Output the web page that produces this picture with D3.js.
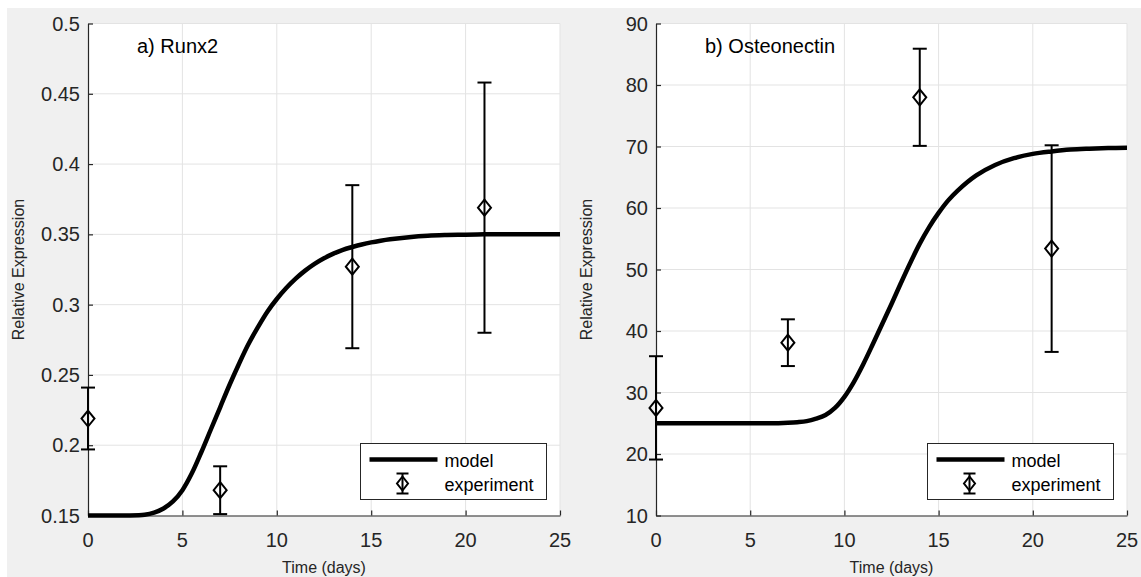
<!DOCTYPE html>
<html>
<head>
<meta charset="utf-8">
<title>Runx2 / Osteonectin</title>
<style>
body { margin: 0; background: #fff; }
text { font-family: "Liberation Sans", Arial, sans-serif; fill: #262626; }
.grid line { stroke: #e3e3e3; stroke-width: 1; }
.axis path, .axis line { stroke: #262626; stroke-width: 1.2; }
.tick-label { font-size: 20px; }
.axis-title { font-size: 16px; }
.panel-title { font-size: 20px; fill: #000; }
.legend text { font-size: 18px; fill: #000; }
</style>
</head>
<body>
<svg id="chart" width="1141" height="577"></svg>
<script src="https://d3js.org/d3.v7.min.js"></script>
<script>
// measured days
var expDays = [0, 7, 14, 21];

// panel a) Runx2
var runx2Mean = [0.219, 0.168, 0.327, 0.369];
var runx2Err = [0.022, 0.017, 0.058, 0.089];

// panel b) Osteonectin
var osteoMean = [27.5, 38.1, 78.0, 53.4];
var osteoErr = [8.4, 3.8, 7.9, 16.8];

// model curves
var modelDays = [0, 1, 2, 3, 3.5, 4, 4.5, 5, 5.5, 6, 6.5, 7, 7.5, 8, 8.5, 9, 9.5, 10, 10.5, 11,
  11.5, 12, 12.5, 13, 13.5, 14, 14.5, 15, 15.5, 16, 17, 18, 19, 20, 21, 22, 23, 24, 25];
var runx2Model = [0.15, 0.15, 0.15, 0.1505, 0.152, 0.155, 0.160, 0.168, 0.180, 0.195, 0.211, 0.227,
  0.243, 0.258, 0.272, 0.284, 0.295, 0.304, 0.3118, 0.3185, 0.3242, 0.329, 0.333, 0.3363, 0.339,
  0.341, 0.3428, 0.3443, 0.3455, 0.3465, 0.348, 0.349, 0.3495, 0.3498, 0.35, 0.35, 0.35, 0.35, 0.35];
var osteoModel = [25, 25, 25, 25, 25, 25, 25, 25, 25, 25, 25.02, 25.08, 25.18, 25.35, 25.75, 26.35,
  27.5, 29.3, 31.7, 34.6, 37.8, 41.1, 44.4, 47.8, 51.1, 54.2, 56.9, 59.2, 61.2, 62.8, 65.3, 67.0,
  68.1, 68.8, 69.2, 69.5, 69.65, 69.75, 69.8];

var xTicks = [0, 5, 10, 15, 20, 25];
var runx2Ticks = [0.15, 0.2, 0.25, 0.3, 0.35, 0.4, 0.45, 0.5];
var osteoTicks = [10, 20, 30, 40, 50, 60, 70, 80, 90];

var svg = d3.select("#chart");

// figure background
svg.append("rect").attr("x", 7).attr("y", 8).attr("width", 1134).attr("height", 569).attr("fill", "#f0f0f0");

var panels = [
  { left: 88, right: 560, title: "a) Runx2", domain: [0.15, 0.5], ticks: runx2Ticks,
    mean: runx2Mean, err: runx2Err, model: runx2Model },
  { left: 656, right: 1127, title: "b) Osteonectin", domain: [10, 90], ticks: osteoTicks,
    mean: osteoMean, err: osteoErr, model: osteoModel }
];

var plotTop = 23.5, plotBottom = 515.5;

function diamond(g, cx, cy, w, h) {
  g.append("path")
    .attr("d", "M" + cx + "," + (cy - h / 2) + "L" + (cx + w / 2) + "," + cy + "L" + cx + "," + (cy + h / 2) + "L" + (cx - w / 2) + "," + cy + "Z")
    .attr("fill", "none").attr("stroke", "#000").attr("stroke-width", 2);
}

panels.forEach(function (p) {
  var x = d3.scaleLinear().domain([0, 25]).range([p.left, p.right]);
  var y = d3.scaleLinear().domain(p.domain).range([plotBottom, plotTop]);
  var g = svg.append("g");

  g.append("rect").attr("x", p.left).attr("y", plotTop).attr("width", p.right - p.left)
    .attr("height", plotBottom - plotTop).attr("fill", "#fff");

  // grid
  var grid = g.append("g").attr("class", "grid");
  grid.selectAll(".gx").data(xTicks.slice(1)).enter().append("line")
    .attr("x1", function (d) { return x(d); }).attr("x2", function (d) { return x(d); })
    .attr("y1", plotTop).attr("y2", plotBottom);
  grid.selectAll(".gy").data(p.ticks.slice(1)).enter().append("line")
    .attr("x1", p.left).attr("x2", p.right)
    .attr("y1", function (d) { return y(d); }).attr("y2", function (d) { return y(d); });

  // axes (inward ticks)
  g.append("g").attr("class", "axis").attr("transform", "translate(0," + plotBottom + ")")
    .call(d3.axisBottom(x).tickValues(xTicks).tickSize(-5).tickSizeOuter(0).tickFormat(""));
  g.append("g").attr("class", "axis").attr("transform", "translate(" + p.left + ",0)")
    .call(d3.axisLeft(y).tickValues(p.ticks).tickSize(-5).tickSizeOuter(0).tickFormat(""));

  g.selectAll(".xl").data(xTicks).enter().append("text").attr("class", "tick-label")
    .attr("x", function (d) { return x(d); }).attr("y", 540).attr("dy", "0.35em")
    .attr("text-anchor", "middle").text(function (d) { return d; });
  g.selectAll(".yl").data(p.ticks).enter().append("text").attr("class", "tick-label")
    .attr("x", p.left - 8).attr("y", function (d) { return y(d); }).attr("dy", "0.35em")
    .attr("text-anchor", "end").text(function (d) { return d; });

  g.append("text").attr("class", "axis-title").attr("x", (p.left + p.right) / 2).attr("y", 567)
    .attr("dy", "0.35em").attr("text-anchor", "middle").text("Time (days)");
  g.append("text").attr("class", "axis-title")
    .attr("transform", "translate(" + (p.left - 70) + "," + ((plotTop + plotBottom) / 2) + ") rotate(-90)")
    .attr("text-anchor", "middle").attr("dy", "0.35em").text("Relative Expression");

  g.append("text").attr("class", "panel-title").attr("x", p.left + 49).attr("y", 53).text(p.title);

  // model curve
  var line = d3.line().x(function (d, i) { return x(modelDays[i]); }).y(function (d) { return y(d); })
    .curve(d3.curveCatmullRom.alpha(0.5));
  g.append("path").datum(p.model).attr("d", line).attr("fill", "none")
    .attr("stroke", "#000").attr("stroke-width", 4.5).attr("stroke-linejoin", "round");

  // experiment error bars
  var eb = g.append("g");
  expDays.forEach(function (t, i) {
    var cx = x(t), lo = y(p.mean[i] - p.err[i]), hi = y(p.mean[i] + p.err[i]);
    eb.append("line").attr("x1", cx).attr("x2", cx).attr("y1", lo).attr("y2", hi)
      .attr("stroke", "#000").attr("stroke-width", 2);
    [lo, hi].forEach(function (cy) {
      eb.append("line").attr("x1", cx - 7).attr("x2", cx + 7).attr("y1", cy).attr("y2", cy)
        .attr("stroke", "#000").attr("stroke-width", 2);
    });
    diamond(eb, cx, y(p.mean[i]), 13, 16);
  });

  // legend
  var lw = 186, lh = 56;
  var lx = p.right - 13.5 - lw, ly = plotBottom - 16 - lh;
  var lg = g.append("g").attr("class", "legend");
  lg.append("rect").attr("x", lx).attr("y", ly).attr("width", lw).attr("height", lh)
    .attr("fill", "#fff").attr("stroke", "#262626").attr("stroke-width", 1);
  lg.append("line").attr("x1", lx + 9).attr("x2", lx + 77).attr("y1", ly + 16).attr("y2", ly + 16)
    .attr("stroke", "#000").attr("stroke-width", 4.5);
  lg.append("text").attr("x", lx + 84).attr("y", ly + 17).attr("dy", "0.35em").text("model");
  var ix = lx + 42, iy = ly + 40;
  lg.append("line").attr("x1", ix).attr("x2", ix).attr("y1", iy - 10).attr("y2", iy + 10)
    .attr("stroke", "#000").attr("stroke-width", 2);
  [iy - 10, iy + 10].forEach(function (cy) {
    lg.append("line").attr("x1", ix - 6).attr("x2", ix + 6).attr("y1", cy).attr("y2", cy)
      .attr("stroke", "#000").attr("stroke-width", 2);
  });
  diamond(lg, ix, iy, 11, 14);
  lg.append("text").attr("x", lx + 84).attr("y", ly + 41).attr("dy", "0.35em").text("experiment");
});
</script>
</body>
</html>
